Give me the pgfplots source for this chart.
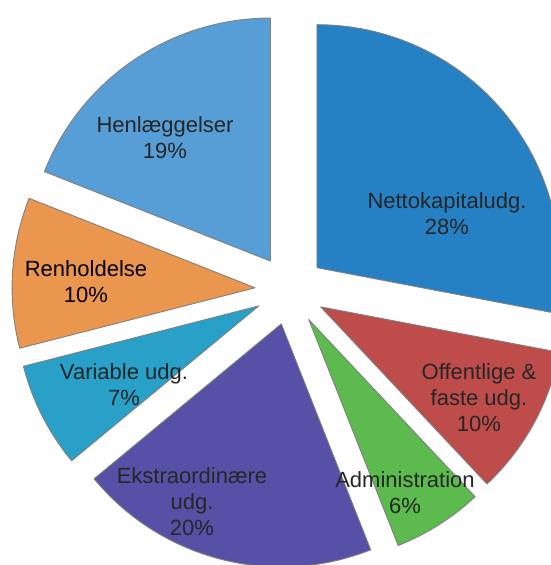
\documentclass[border=0pt]{standalone}
\usepackage{pgfplots}
\pgfplotsset{compat=1.18}
\usepackage{fontspec}
\setmainfont{Liberation Sans}
\definecolor{cNet}{RGB}{38,128,196}
\definecolor{cOff}{RGB}{190,76,74}
\definecolor{cAdm}{RGB}{92,186,78}
\definecolor{cEks}{RGB}{86,80,166}
\definecolor{cVar}{RGB}{40,160,200}
\definecolor{cRen}{RGB}{234,150,78}
\definecolor{cHen}{RGB}{88,158,214}
% #1 cumulative start (percent), #2 share (percent), #3 colour
\newcommand\slice[3]{%
  \fill[#3, draw=black!50, line width=0.9pt, line join=round]
    (axis cs:290,275) ++({90-3.6*(#1+0.5*#2)}:35pt)
    -- ++({90-3.6*(#1)}:243pt)
    arc[start angle={90-3.6*(#1)}, end angle={90-3.6*(#1+#2)}, radius=243pt]
    -- cycle;}
\begin{document}
\begin{tikzpicture}
\begin{axis}[scale only axis, width=551pt, height=565pt,
  xmin=0, xmax=551, ymin=0, ymax=565, hide axis, clip=true]
\slice{0}{28}{cNet}
\slice{28}{10}{cOff}
\slice{38}{6}{cAdm}
\slice{44}{20}{cEks}
\slice{64}{7}{cVar}
\slice{71}{10}{cRen}
\slice{81}{19}{cHen}
\tikzset{lab/.style={align=center, font=\fontsize{22}{26}\selectfont, text=black!85}}
\node[lab] at (axis cs:165,427) {Henlæggelser\\19\%};
\node[lab] at (axis cs:447,351) {Nettokapitaludg.\\28\%};
\node[lab, text=black] at (axis cs:86,283) {Renholdelse\\10\%};
\node[lab] at (axis cs:124,180) {Variable udg.\\7\%};
\node[lab] at (axis cs:192,63) {Ekstraordinære\\udg.\\20\%};
\node[lab] at (axis cs:479,167) {Offentlige \&\\faste udg.\\10\%};
\node[lab] at (axis cs:405,72) {Administration\\6\%};
\end{axis}
\pgfresetboundingbox
\path (current axis.south west) rectangle (current axis.north east);
\end{tikzpicture}
\end{document}
